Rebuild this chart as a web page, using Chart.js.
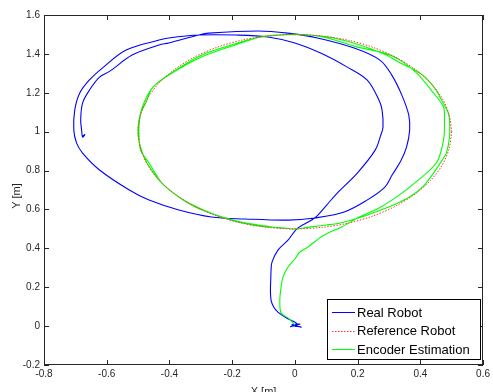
<!DOCTYPE html>
<html>
<head>
<meta charset="utf-8">
<script src="https://cdn.jsdelivr.net/npm/chart.js@4.4.0/dist/chart.umd.min.js"></script>
<style>
html, body { margin: 0; padding: 0; background: #fff; }
</style>
</head>
<body>
<canvas id="myChart" width="493" height="392"></canvas>
<script>
// values (metres)
var seriesNames = ['Real Robot', 'Reference Robot', 'Encoder Estimation'];

var realX = [0.000, 0.020, -0.010, 0.016, -0.014, 0.006, -0.025, -0.054, -0.068, -0.076, -0.078, -0.077, -0.076, -0.073, -0.054, -0.022, 0.009, 0.063, 0.100, 0.135, 0.199, 0.256, 0.274, 0.281, 0.278, 0.268, 0.230, 0.167, 0.082, 0.000, -0.086, -0.190, -0.307, -0.402, -0.433, -0.538, -0.614, -0.655, -0.686, -0.702, -0.705, -0.696, -0.677, -0.623, -0.528, -0.465, -0.370, -0.266, -0.159, -0.022, 0.063, 0.157, 0.230, 0.287, 0.310, 0.338, 0.356, 0.366, 0.363, 0.341, 0.309, 0.271, 0.189, 0.072, -0.023, -0.117, -0.275, -0.307, -0.402, -0.433, -0.519, -0.591, -0.623, -0.655, -0.677, -0.683, -0.680, -0.677, -0.670, -0.676];
var realY = [0.000, -0.005, 0.006, 0.010, -0.003, 0.012, 0.040, 0.072, 0.100, 0.134, 0.185, 0.237, 0.285, 0.329, 0.391, 0.442, 0.504, 0.556, 0.620, 0.684, 0.787, 0.905, 0.983, 1.024, 1.111, 1.163, 1.266, 1.332, 1.404, 1.456, 1.487, 1.497, 1.497, 1.482, 1.471, 1.420, 1.327, 1.266, 1.199, 1.111, 1.008, 0.941, 0.890, 0.803, 0.700, 0.648, 0.597, 0.561, 0.551, 0.545, 0.556, 0.587, 0.648, 0.715, 0.777, 0.850, 0.920, 1.008, 1.086, 1.188, 1.291, 1.368, 1.430, 1.482, 1.507, 1.518, 1.507, 1.497, 1.456, 1.446, 1.394, 1.310, 1.281, 1.214, 1.147, 1.060, 1.008, 0.972, 0.985, 0.978];

var refX = [0.500, 0.492, 0.470, 0.433, 0.383, 0.321, 0.250, 0.171, 0.087, 0.000, -0.087, -0.171, -0.250, -0.321, -0.383, -0.433, -0.470, -0.492, -0.500, -0.492, -0.470, -0.433, -0.383, -0.321, -0.250, -0.171, -0.087, 0.000, 0.087, 0.171, 0.250, 0.321, 0.383, 0.433, 0.470, 0.492, 0.500];
var refY = [1.000, 1.087, 1.171, 1.250, 1.321, 1.383, 1.433, 1.470, 1.492, 1.500, 1.492, 1.470, 1.433, 1.383, 1.321, 1.250, 1.171, 1.087, 1.000, 0.913, 0.829, 0.750, 0.679, 0.617, 0.567, 0.530, 0.508, 0.500, 0.508, 0.530, 0.567, 0.617, 0.679, 0.750, 0.829, 0.913, 1.000];

var encX = [0.000, -0.020, -0.044, -0.048, -0.044, -0.038, -0.022, 0.000, 0.015, 0.041, 0.080, 0.104, 0.148, 0.205, 0.262, 0.309, 0.366, 0.451, 0.474, 0.477, 0.474, 0.442, 0.388, 0.335, 0.293, 0.189, 0.104, 0.019, -0.108, -0.190, -0.298, -0.402, -0.455, -0.474, -0.490, -0.497, -0.497, -0.492, -0.465, -0.424, -0.370, -0.317, -0.253, -0.181, -0.108, -0.032, 0.000, 0.041, 0.100, 0.148, 0.205, 0.262, 0.320, 0.366, 0.410, 0.442, 0.468, 0.483, 0.493, 0.493, 0.488, 0.465, 0.450, 0.415, 0.380, 0.339, 0.290, 0.200, 0.100, 0.000, -0.100, -0.190, -0.300, -0.400, -0.452, -0.478, -0.493, -0.500, -0.498, -0.488, -0.470, -0.428, -0.375, -0.322, -0.258, -0.185, -0.110, -0.040];
var encY = [0.005, 0.040, 0.067, 0.134, 0.201, 0.252, 0.304, 0.345, 0.380, 0.406, 0.455, 0.478, 0.509, 0.561, 0.602, 0.648, 0.715, 0.839, 0.957, 1.060, 1.127, 1.199, 1.302, 1.368, 1.400, 1.440, 1.482, 1.500, 1.487, 1.446, 1.384, 1.291, 1.224, 1.152, 1.101, 1.034, 0.983, 0.905, 0.839, 0.736, 0.664, 0.612, 0.571, 0.535, 0.514, 0.504, 0.499, 0.508, 0.520, 0.532, 0.557, 0.590, 0.627, 0.664, 0.720, 0.787, 0.850, 0.890, 0.972, 1.060, 1.100, 1.170, 1.215, 1.280, 1.320, 1.350, 1.395, 1.450, 1.488, 1.500, 1.490, 1.452, 1.392, 1.296, 1.230, 1.160, 1.090, 1.020, 0.960, 0.900, 0.835, 0.742, 0.670, 0.620, 0.575, 0.540, 0.518, 0.503];

var xTickLabels = ['-0.8', '-0.6', '-0.4', '-0.2', '0', '0.2', '0.4', '0.6'];
var yTickLabels = ['-0.2', '0', '0.2', '0.4', '0.6', '0.8', '1', '1.2', '1.4', '1.6'];
var xTicks = xTickLabels.map(Number);
var yTicks = yTickLabels.map(Number);

function pts(xs, ys) {
  return xs.map(function (x, i) { return { x: x, y: ys[i] }; });
}

var axisColor = '#262626';
var fontFam = '"Liberation Sans", Arial, Helvetica, sans-serif';
Chart.defaults.font.family = fontFam;

// box, inward ticks, axis titles and legend drawn MATLAB style
var matlabFrame = {
  id: 'matlabFrame',
  afterDraw: function (chart) {
    var c = chart.ctx, a = chart.chartArea;
    var sx = chart.scales.x, sy = chart.scales.y;
    c.save();
    c.strokeStyle = axisColor;
    c.lineWidth = 1;
    c.strokeRect(Math.round(a.left) + 0.5, Math.round(a.top) + 0.5,
      Math.round(a.right - a.left) - 1, Math.round(a.bottom - a.top) - 1);
    c.beginPath();
    xTicks.forEach(function (v) {
      var p = Math.round(sx.getPixelForValue(v)) + 0.5;
      c.moveTo(p, a.bottom); c.lineTo(p, a.bottom - 5);
      c.moveTo(p, a.top); c.lineTo(p, a.top + 5);
    });
    yTicks.forEach(function (v) {
      var p = Math.round(sy.getPixelForValue(v)) + 0.5;
      c.moveTo(a.left, p); c.lineTo(a.left + 5, p);
      c.moveTo(a.right, p); c.lineTo(a.right - 5, p);
    });
    c.stroke();

    // axis titles
    c.fillStyle = axisColor;
    c.font = '11px ' + fontFam;
    c.textAlign = 'center';
    c.textBaseline = 'alphabetic';
    c.fillText('X [m]', (a.left + a.right) / 2, 395);
    c.save();
    c.translate(19.5, 196);
    c.rotate(-Math.PI / 2);
    c.fillText('Y [m]', 0, 0);
    c.restore();

    // legend box
    var bx = 327.5, by = 299.5, bw = 153, bh = 60;
    c.fillStyle = '#fff';
    c.fillRect(bx, by, bw, bh);
    c.strokeStyle = '#000';
    c.strokeRect(bx, by, bw, bh);
    var rows = [312, 330.5, 349];
    c.font = '13px ' + fontFam;
    c.textAlign = 'left';
    c.textBaseline = 'middle';
    chart.data.datasets.forEach(function (ds, i) {
      var y = Math.round(rows[i]) + 0.5;
      c.beginPath();
      c.strokeStyle = ds.borderColor;
      c.lineWidth = 1;
      c.setLineDash(ds.borderDash || []);
      c.moveTo(332, y); c.lineTo(355, y);
      c.stroke();
      c.setLineDash([]);
      c.fillStyle = '#000';
      c.fillText(ds.label, 357, rows[i] + 1);
    });
    c.restore();
  }
};

var ctx = document.getElementById('myChart').getContext('2d');
var myChart = new Chart(ctx, {
  type: 'scatter',
  data: {
    datasets: [{
      label: seriesNames[0],
      data: pts(realX, realY),
      showLine: true,
      borderColor: '#0000ff',
      borderWidth: 1.1,
      pointRadius: 0,
      tension: 0.35,
      order: 3
    }, {
      label: seriesNames[1],
      data: pts(refX, refY),
      showLine: true,
      borderColor: '#ff3333',
      borderDash: [1.5, 1.5],
      borderWidth: 1,
      pointRadius: 0,
      tension: 0.3,
      order: 1
    }, {
      label: seriesNames[2],
      data: pts(encX, encY),
      showLine: true,
      borderColor: '#00ff00',
      borderWidth: 1.1,
      pointRadius: 0,
      tension: 0.3,
      order: 2
    }]
  },
  options: {
    responsive: false,
    animation: false,
    devicePixelRatio: 1,
    layout: { padding: { left: 0, right: 6, top: 15, bottom: 0 } },
    plugins: {
      legend: { display: false },
      tooltip: { enabled: false }
    },
    scales: {
      x: {
        type: 'linear',
        min: -0.8,
        max: 0.6,
        afterFit: function (s) { s.height = 27; },
        grid: { display: false, drawTicks: false },
        border: { display: false },
        ticks: {
          stepSize: 0.2,
          autoSkip: false,
          maxRotation: 0,
          padding: 3,
          color: axisColor,
          font: { size: 10 },
          callback: function (v, i) { return xTickLabels[i]; }
        }
      },
      y: {
        type: 'linear',
        min: -0.2,
        max: 1.6,
        afterFit: function (s) { s.width = 44; },
        grid: { display: false, drawTicks: false },
        border: { display: false },
        ticks: {
          stepSize: 0.2,
          autoSkip: false,
          padding: 4,
          color: axisColor,
          font: { size: 10 },
          callback: function (v, i) { return yTickLabels[i]; }
        }
      }
    }
  },
  plugins: [matlabFrame]
});
</script>
</body>
</html>
